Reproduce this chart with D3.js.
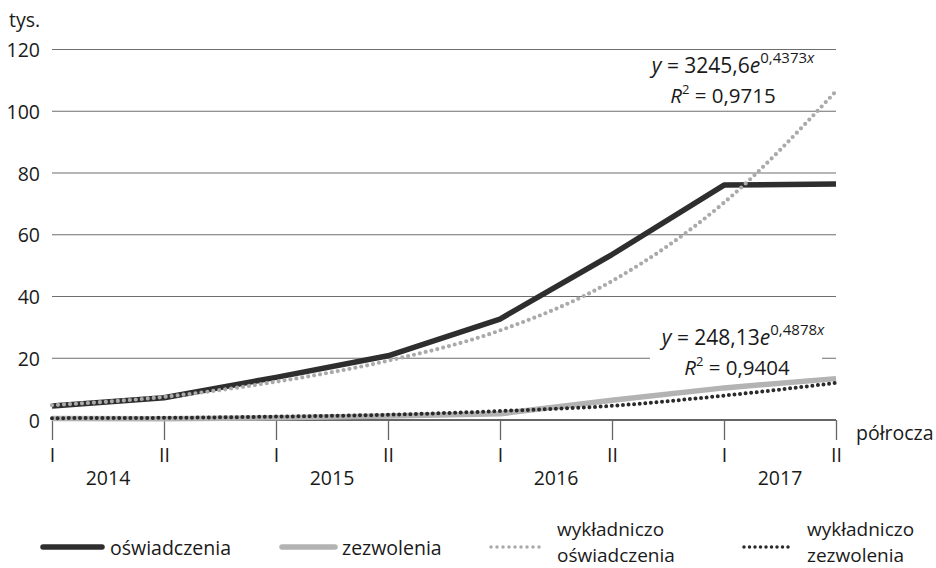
<!DOCTYPE html>
<html><head><meta charset="utf-8">
<script src="https://cdn.jsdelivr.net/npm/d3@7/dist/d3.min.js"></script>
<style>body{margin:0;background:#fff}svg{display:block}text{font-family:"Open Sans",sans-serif;fill:#1a1a1a}</style>
</head><body><svg id="c" width="936" height="568"></svg>
<script>
const halves = ["I","II","I","II","I","II","I","II"];
const years = ["2014","2015","2016","2017"];
const yTicks = [0,20,40,60,80,100,120];
const oswiadczenia = [4.5, 7.2, 13.8, 20.8, 32.7, 53.6, 76.1, 76.4];
const zezwolenia = [0.5, 0.4, 0.7, 1.3, 2.0, 6.4, 10.4, 13.4];
const trendOsw = [4.8, 7.5, 12.4, 19.2, 29.0, 45.0, 70.4, 106.5];
const trendZez = [0.6, 0.7, 1.1, 1.7, 2.9, 4.6, 7.9, 12.0];
const eq1 = {main:"3245,6", exp:"0,4373", r2:"0,9715"};
const eq2 = {main:"248,13", exp:"0,4878", r2:"0,9404"};

const svg = d3.select("#c");
const x = d3.scalePoint().domain(d3.range(halves.length)).range([52, 836]);
const y = d3.scaleLinear().domain([0,120]).range([420, 49.5]);

// grid
svg.append("g").selectAll("line").data(yTicks.filter(d=>d>0)).join("line")
  .attr("x1",52).attr("x2",836).attr("y1",d=>y(d)).attr("y2",d=>y(d))
  .attr("stroke","#6e6e6e").attr("stroke-width",1.2);

// y labels
const yAxis = d3.axisLeft(y).tickValues(yTicks).tickSize(0).tickPadding(12);
const ga = svg.append("g").attr("transform","translate(52,0)").call(yAxis);
ga.select(".domain").remove();
ga.selectAll("text").attr("font-size",19.5).attr("font-family","Open Sans").attr("fill","#1a1a1a").attr("dy","0.36em");
svg.append("text").attr("x",9).attr("y",27).attr("font-size",19.5).text("tys.");

// x axis
const xAxis = d3.axisBottom(x).tickSize(20).tickFormat(i=>halves[i]).tickPadding(8);
const gx = svg.append("g").attr("transform","translate(0,420)").call(xAxis);
gx.select(".domain").attr("stroke","#666").attr("stroke-width",2.2).attr("d","M52,0H836");
gx.selectAll(".tick line").attr("stroke","#666").attr("stroke-width",1.3);
gx.selectAll("text").attr("font-size",19.5).attr("font-family","Open Sans").attr("fill","#1a1a1a");
svg.append("g").selectAll("text").data(years).join("text")
  .attr("x",(d,i)=>(x(2*i)+x(2*i+1))/2).attr("y",485).attr("text-anchor","middle")
  .attr("font-size",19.5).text(d=>d);
svg.append("text").attr("x",856).attr("y",440).attr("font-size",19.5).text("półrocza");

// label background for equation 2
svg.append("rect").attr("x",650).attr("y",326).attr("width",172).attr("height",50).attr("fill","#fff");

const line = d3.line().x((d,i)=>x(i)).y(d=>y(d));
const curve = d3.line().x((d,i)=>x(i)).y(d=>y(d)).curve(d3.curveMonotoneX);

svg.append("path").attr("d",line(oswiadczenia)).attr("fill","none").attr("stroke","#2e2e2e").attr("stroke-width",5.5).attr("stroke-linejoin","round");
svg.append("path").attr("d",line(zezwolenia)).attr("fill","none").attr("stroke","#b3b3b3").attr("stroke-width",5.5).attr("stroke-linejoin","round");
svg.append("path").attr("d",curve(trendOsw)).attr("fill","none").attr("stroke","#aaaaaa").attr("stroke-width",4.2).attr("stroke-dasharray","0,6").attr("stroke-linecap","round");
svg.append("path").attr("d",curve(trendZez)).attr("fill","none").attr("stroke","#2a2a2a").attr("stroke-width",4).attr("stroke-dasharray","0,5.6").attr("stroke-linecap","round");

function equation(eq, cx, by, rdx){
  const t = svg.append("text").attr("text-anchor","middle").attr("font-size",21);
  t.append("tspan").attr("x",cx).attr("y",by).attr("font-style","italic").text("y");
  t.append("tspan").text(" = "+eq.main);
  t.append("tspan").attr("font-style","italic").text("e");
  t.append("tspan").attr("font-size",15).attr("dy",-10).text(eq.exp);
  t.append("tspan").attr("font-size",15).attr("font-style","italic").text("x");
  t.append("tspan").attr("x",cx+rdx).attr("y",by+29.5).attr("font-size",20.5).attr("font-style","italic").text("R");
  t.append("tspan").attr("font-size",13).attr("dy",-9).text("2");
  t.append("tspan").attr("font-size",20.5).attr("dy",9).text(" = "+eq.r2);
}
equation(eq1, 733, 73, -10);
equation(eq2, 743, 345, -6);

// legend
const legend = [
  {x1:43,x2:102,color:"#2e2e2e",w:5.5,dash:null,tx:110,lines:["oświadczenia"]},
  {x1:282,x2:335,color:"#b3b3b3",w:5.5,dash:null,tx:342,lines:["zezwolenia"]},
  {x1:491,x2:545,color:"#aaaaaa",w:3.5,dash:"0,6",tx:557,lines:["wykładniczo","oświadczenia"]},
  {x1:744,x2:793,color:"#2a2a2a",w:3.5,dash:"0,5.5",tx:807,lines:["wykładniczo","zezwolenia"]}
];
const lg = svg.append("g").selectAll("g").data(legend).join("g");
lg.append("line").attr("x1",d=>d.x1).attr("x2",d=>d.x2).attr("y1",547).attr("y2",547)
  .attr("stroke",d=>d.color).attr("stroke-width",d=>d.w)
  .attr("stroke-linecap","round")
  .attr("stroke-dasharray",d=>d.dash);
lg.each(function(d){
  const g = d3.select(this);
  if(d.lines.length===1){
    g.append("text").attr("x",d.tx).attr("y",555).attr("font-size",19.5).text(d.lines[0]);
  } else {
    const t = g.append("text").attr("font-size",19);
    t.append("tspan").attr("x",d.tx).attr("y",535.5).text(d.lines[0]);
    t.append("tspan").attr("x",d.tx).attr("y",562).text(d.lines[1]);
  }
});
</script></body></html>
